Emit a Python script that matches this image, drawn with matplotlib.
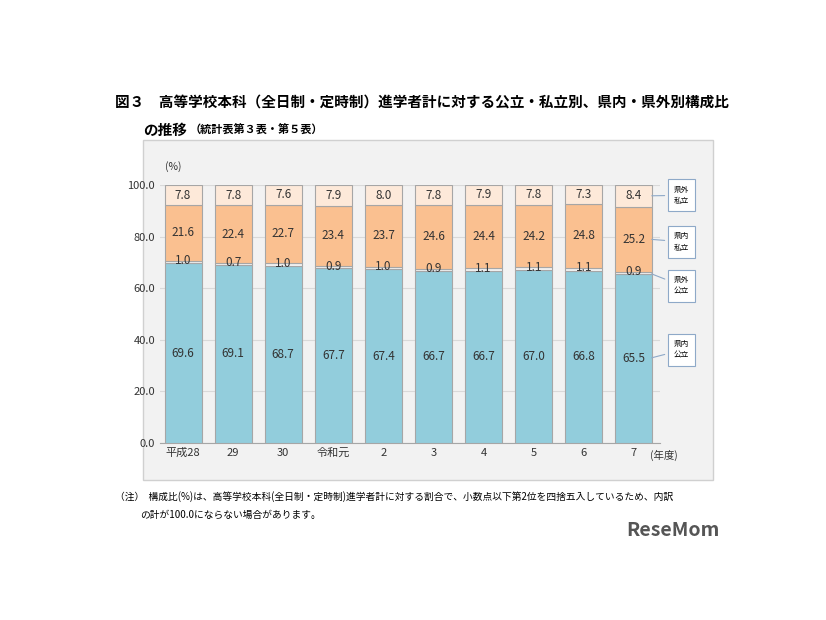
import matplotlib
matplotlib.use("Agg")
import matplotlib.pyplot as plt
from matplotlib.patches import Rectangle
import numpy as np

plt.rcParams['font.family'] = ['Noto Sans CJK JP', 'DejaVu Sans']

years = ['平成28', '29', '30', '令和元', '2', '3', '4', '5', '6', '7']
naiko = [69.6, 69.1, 68.7, 67.7, 67.4, 66.7, 66.7, 67.0, 66.8, 65.5]
gaiko = [1.0, 0.7, 1.0, 0.9, 1.0, 0.9, 1.1, 1.1, 1.1, 0.9]
naishi = [21.6, 22.4, 22.7, 23.4, 23.7, 24.6, 24.4, 24.2, 24.8, 25.2]
gaishi = [7.8, 7.8, 7.6, 7.9, 8.0, 7.8, 7.9, 7.8, 7.3, 8.4]
series = [naiko, gaiko, naishi, gaishi]
names = ['県内\n公立', '県外\n公立', '県内\n私立', '県外\n私立']
colors = ['#92CDDC', '#F4F4F4', '#FAC090', '#FDE9D9']

fig = plt.figure(figsize=(8.26, 6.2), dpi=100)
fig.patches.append(Rectangle((143/826, 1-480/620), 570/826, 340/620, transform=fig.transFigure,
                             facecolor='#F2F2F2', edgecolor='#D0D0D0', lw=1, zorder=-5))
ax = fig.add_axes([160/826, 1-443/620, 500/826, 258/620])
ax.set_facecolor('none')
x = np.arange(len(years))
bottom = np.zeros(len(years))
for s, c in zip(series, colors):
    ax.bar(x, s, 0.74, bottom=bottom, color=c, edgecolor='#A6A6A6', lw=0.8, zorder=3)
    for xi, b, v in zip(x, bottom, s):
        ax.text(xi, b + v/2 if v > 3 else b + v, f'{v:.1f}', ha='center', va='center',
                fontsize=8.5, color='#333333', zorder=4)
    bottom += np.array(s)
ax.set_xlim(-0.46, 9.52)
ax.set_ylim(0, 100)
ax.set_yticks(np.arange(0, 101, 20))
ax.set_yticklabels([f'{v:.1f}' for v in range(0, 101, 20)], fontsize=8, color='#333333')
ax.set_xticks(x)
ax.set_xticklabels(years, fontsize=8, color='#333333')
ax.tick_params(length=0)
ax.yaxis.grid(True, color='#D9D9D9', lw=0.8, zorder=0)
for sp in ['top', 'right', 'left']:
    ax.spines[sp].set_visible(False)
ax.spines['bottom'].set_color('#A6A6A6')
ax.text(-0.2, 106, '(%)', fontsize=7.5, color='#333333', ha='center')
ax.text(9.6, -6, '(年度)', fontsize=7.5, color='#333333', ha='center')

last = [series[0][-1], series[1][-1], series[2][-1], series[3][-1]]
cum = np.cumsum([0] + last)
box_y = [36, 61, 78, 96]
anchor_y = [cum[i] + last[i]/2 for i in range(4)]
for n, by, ay in zip(names, box_y, anchor_y):
    ax.annotate(n, xy=(9.3, ay), xytext=(9.95, by), fontsize=5.5, ha='center', va='center',
                annotation_clip=False, linespacing=1.6,
                bbox=dict(boxstyle='square,pad=0.8', fc='white', ec='#8EA9C8', lw=0.8),
                arrowprops=dict(arrowstyle='-', color='#8EA9C8', lw=0.8))

fig.text(115/826, 1-103/620, '図３　高等学校本科（全日制・定時制）進学者計に対する公立・私立別、県内・県外別構成比',
         fontsize=10.5, weight='bold', va='center')
fig.text(143/826, 1-130/620, 'の推移', fontsize=10.5, weight='bold', va='center')
fig.text(190/826, 1-130/620, '（統計表第３表・第５表）', fontsize=8, weight='bold', va='center')
fig.text(115/826, 1-497/620, '（注）  構成比(%)は、高等学校本科(全日制・定時制)進学者計に対する割合で、小数点以下第2位を四捨五入しているため、内訳',
         fontsize=7, va='center')
fig.text(140/826, 1-515/620, 'の計が100.0にならない場合があります。', fontsize=7, va='center')
fig.text(720/826, 1-530/620, 'ReseMom', fontsize=14, weight='bold', color='#555555', ha='right', va='center')

fig.savefig('out.png', dpi=100, facecolor='white')
